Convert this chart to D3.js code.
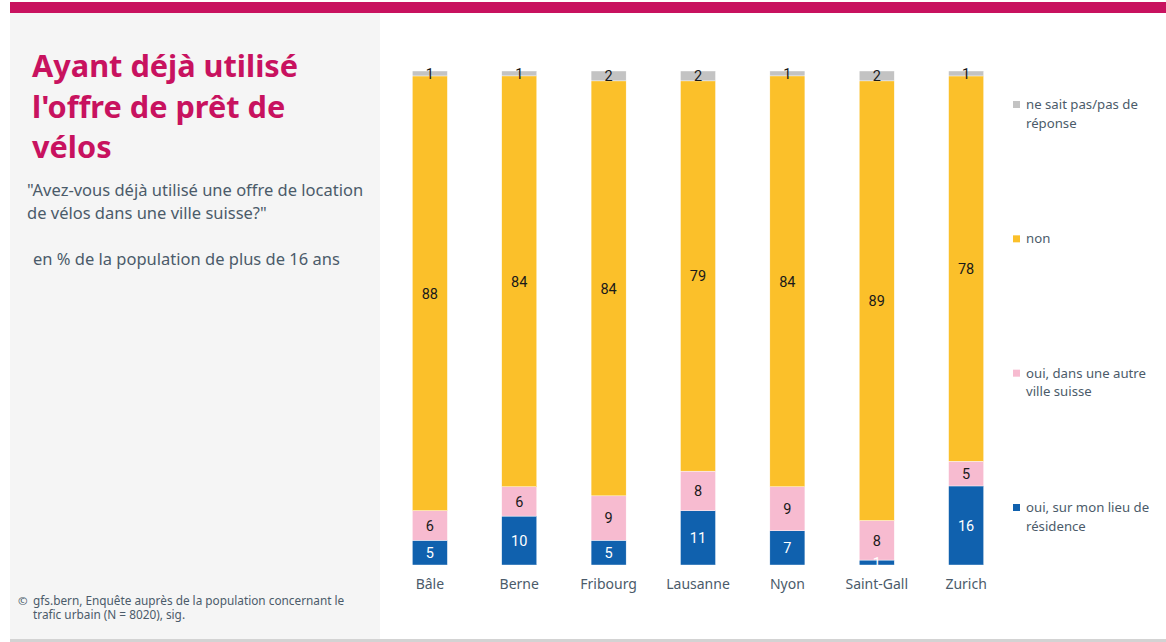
<!DOCTYPE html>
<html lang="fr">
<head>
<meta charset="utf-8">
<script src="https://cdn.jsdelivr.net/npm/d3@7"></script>
<style>
  html, body { margin: 0; padding: 0; background: #fff; }
  svg { display: block; }
</style>
</head>
<body>
<svg id="chart" width="1166" height="642"></svg>
<script>
// Villes interrogées
const cities = ["Bâle", "Berne", "Fribourg", "Lausanne", "Nyon", "Saint-Gall", "Zurich"];

// Réponses en % (de bas en haut de la pile)
const ouiLieu   = [5, 10, 5, 11, 7, 1, 16];
const ouiAutre  = [6, 6, 9, 8, 9, 8, 5];
const non       = [88, 84, 84, 79, 84, 89, 78];
const neSaitPas = [1, 1, 2, 2, 1, 2, 1];

const seriesKeys = ["ouiLieu", "ouiAutre", "non", "neSaitPas"];
const seriesLabels = {
  neSaitPas: ["ne sait pas/pas de", "réponse"],
  non: ["non"],
  ouiAutre: ["oui, dans une autre", "ville suisse"],
  ouiLieu: ["oui, sur mon lieu de", "résidence"]
};
const colors = {
  ouiLieu: "#1061AE",
  ouiAutre: "#F7BBD0",
  non: "#FBC02A",
  neSaitPas: "#C3C3C3"
};
const labelColors = { ouiLieu: "#ffffff", ouiAutre: "#1a1a1a", non: "#1a1a1a", neSaitPas: "#1a1a1a" };

const rows = cities.map((c, i) => ({
  city: c,
  ouiLieu: ouiLieu[i],
  ouiAutre: ouiAutre[i],
  non: non[i],
  neSaitPas: neSaitPas[i]
}));

const svg = d3.select("#chart");
const textFont = "'Noto Sans', 'Open Sans', sans-serif";
const slate = "#4B5B6A";

// Panneau gauche et bandeaux
svg.append("rect").attr("x", 10).attr("y", 13).attr("width", 370).attr("height", 626).attr("fill", "#F5F5F5");
svg.append("rect").attr("x", 10).attr("y", 2).attr("width", 1156).attr("height", 11).attr("fill", "#C8125F");
svg.append("rect").attr("x", 10).attr("y", 639).attr("width", 1156).attr("height", 3).attr("fill", "#D3D3D3");

// Titre
const title = svg.append("text")
  .attr("font-family", textFont).attr("font-weight", 700).attr("font-size", 30.7)
  .attr("fill", "#C8125F");
["Ayant déjà utilisé", "l'offre de prêt de", "vélos"].forEach((t, i) => {
  title.append("tspan").attr("x", 32).attr("y", 77 + i * 40.5).text(t);
});

// Question
const q = svg.append("text")
  .attr("font-family", textFont).attr("font-size", 16.5).attr("fill", slate);
["\"Avez-vous déjà utilisé une offre de location", "de vélos dans une ville suisse?\""].forEach((t, i) => {
  q.append("tspan").attr("x", 27).attr("y", 196 + i * 23).text(t);
});
svg.append("text")
  .attr("font-family", textFont).attr("font-size", 16.5).attr("fill", slate)
  .attr("x", 33).attr("y", 265)
  .text("en % de la population de plus de 16 ans");

// Source
svg.append("text")
  .attr("font-family", textFont).attr("font-size", 11.5).attr("fill", slate)
  .attr("x", 18).attr("y", 605).text("©");
const src = svg.append("text")
  .attr("font-family", textFont).attr("font-size", 11.8).attr("fill", slate);
["gfs.bern, Enquête auprès de la population concernant le", "trafic urbain (N = 8020), sig."].forEach((t, i) => {
  src.append("tspan").attr("x", 33).attr("y", 605 + i * 14).text(t);
});

// Échelles
const x = d3.scaleBand().domain(cities).range([358, 1038]).paddingInner(0.608).paddingOuter(0.608);
const y = d3.scaleLinear().domain([0, 1]).range([565, 71]);

const stack = d3.stack().keys(seriesKeys).offset(d3.stackOffsetExpand);
const stacked = stack(rows);

const groups = svg.append("g").selectAll("g")
  .data(stacked).join("g")
  .attr("fill", d => colors[d.key]);

groups.selectAll("rect")
  .data(d => d.map(s => ({ key: d.key, s })))
  .join("rect")
  .attr("x", d => x(d.s.data.city))
  .attr("width", x.bandwidth())
  .attr("y", d => y(d.s[1]))
  .attr("height", d => y(d.s[0]) - y(d.s[1]))
  .attr("stroke", "#ffffff")
  .attr("stroke-width", 0.4);

// Valeurs dans les segments
const labelFont = "'Liberation Sans Narrow', 'Roboto', sans-serif";
svg.append("g").selectAll("g")
  .data(stacked).join("g")
  .selectAll("text")
  .data(d => d.map(s => ({ key: d.key, s })))
  .join("text")
  .attr("x", d => x(d.s.data.city) + x.bandwidth() / 2)
  .attr("y", d => (y(d.s[0]) + y(d.s[1])) / 2)
  .attr("dy", "0.36em")
  .attr("text-anchor", "middle")
  .attr("font-family", labelFont)
  .attr("font-size", 14.5)
  .attr("fill", d => labelColors[d.key])
  .text(d => d.s.data[d.key]);

// Axe des villes
const xAxis = svg.append("g")
  .attr("transform", "translate(0,565)")
  .call(d3.axisBottom(x).tickSize(0).tickPadding(14));
xAxis.select(".domain").remove();
xAxis.selectAll("text")
  .attr("font-family", textFont).attr("font-size", 14).attr("fill", slate);

// Légende
const legendOrder = ["neSaitPas", "non", "ouiAutre", "ouiLieu"];
const ly = d3.scalePoint().domain(legendOrder).range([101, 504]);
const legend = svg.append("g").selectAll("g")
  .data(legendOrder).join("g")
  .attr("transform", d => `translate(1013,${ly(d)})`);
legend.append("rect").attr("width", 7).attr("height", 7).attr("fill", d => colors[d]);
legend.append("text")
  .attr("font-family", textFont).attr("font-size", 13.2).attr("fill", slate)
  .selectAll("tspan")
  .data(d => seriesLabels[d])
  .join("tspan")
  .attr("x", 13)
  .attr("y", (d, i) => 8 + i * 18.5)
  .text(d => d);
</script>
</body>
</html>
